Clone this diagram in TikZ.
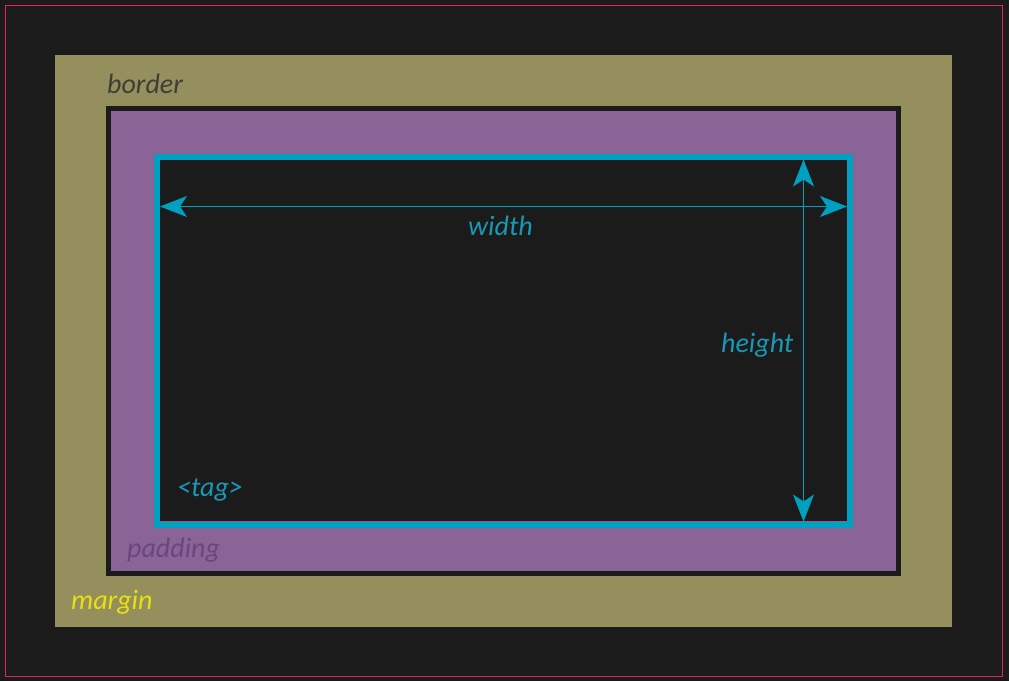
\documentclass[tikz,border=0pt]{standalone}
\usepackage{fontspec}
\setmainfont{Carlito}
\usetikzlibrary{arrows.meta}
\definecolor{bgdark}{HTML}{1B1B1B}
\definecolor{framered}{HTML}{E0245E}
\definecolor{marginolive}{HTML}{948F5C}
\definecolor{paddingpurple}{HTML}{8A6496}
\definecolor{contentcyan}{HTML}{00A0C0}
\definecolor{bordertext}{HTML}{3E3E38}
\definecolor{margintext}{HTML}{E8E010}
\definecolor{paddingtext}{HTML}{6A4680}
\definecolor{cyantext}{HTML}{1898B4}
\tikzset{
  baseline = (current bounding box.center),
}

\begin{document}
\begin{tikzpicture}[
    x=1pt, y=-1pt,
    boxlabel/.style={anchor=base west, inner sep=0pt, font=\fontsize{28}{31}\selectfont\itshape},
    dim/.style={contentcyan, line width=0.9pt,
      {Stealth[length=27pt, width=21pt, inset=7pt]}-{Stealth[length=27pt, width=21pt, inset=7pt]}}
    ]
    % background and frame
    \fill[bgdark] (0,0) rectangle (1009,681);
    \useasboundingbox (0,0) rectangle (1009,681);
    \draw[framered, line width=1pt] (5.5,5.5) rectangle (1002.5,676.5);
    % margin, border, padding
    \fill[marginolive] (55,55) rectangle (952,627);
    \fill[bgdark] (106,106) rectangle (901,576);
    \fill[paddingpurple] (111,111) rectangle (896,571);
    % content box
    \fill[bgdark] (160,160) rectangle (847,521);
    \draw[contentcyan, line width=6pt] (157,157) rectangle (850,524.5);
    % dimension arrows
    \coordinate (wl) at (160,206.5);
    \coordinate (wr) at (847,206.5);
    \coordinate (ht) at (803.5,159.5);
    \coordinate (hb) at (803.5,521.5);
    \draw[dim] (wl) -- (wr);
    \draw[dim] (ht) -- (hb);
    % labels
    \node[boxlabel, text=bordertext] (border) at (107,93) {border};
    \node[boxlabel, text=margintext] (margin) at (71,609) {margin};
    \node[boxlabel, text=paddingtext] (padding) at (127,557) {padding};
    \node[boxlabel, text=cyantext] (width) at (468,235.5) {width};
    \node[boxlabel, text=cyantext] (height) at (721,352) {height};
    \node[boxlabel, text=cyantext] (tag) at (177,496) {<tag>};
  \end{tikzpicture}
\end{document}
